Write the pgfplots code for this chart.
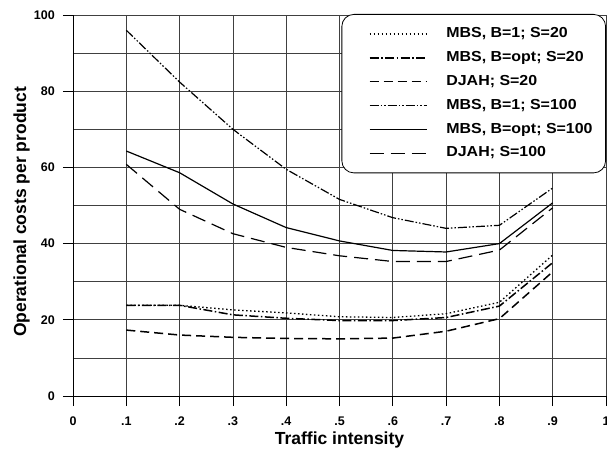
\documentclass[border=0pt]{standalone}
\usepackage{fontspec}
\setmainfont{Liberation Sans}
\newfontfamily\legfont{Liberation Sans}[FakeStretch=1.1]
\usepackage{pgfplots}
\pgfplotsset{compat=1.18}

\begin{document}
\begin{tikzpicture}
\begin{axis}[
    at={(0,0)}, anchor=south west,
    scale only axis,
    width=533bp, height=381bp,
    xmin=0, xmax=1, ymin=0, ymax=100,
    axis lines*=left,
    axis line style={black, line width=0.8bp},
    xtick={0,0.1,...,1.0},
    xticklabels={0,.1,.2,.3,.4,.5,.6,.7,.8,.9,1},
    ytick={0,20,...,100},
    yticklabels={0,20,40,60,80,100},
    minor ytick={10,30,...,90},
    grid=both,
    major grid style={black!75, line width=0.8bp},
    minor grid style={black!75, line width=0.8bp},
    tick align=outside,
    major tick length=10bp,
    minor tick length=0bp,
    tick style={black, line width=0.8bp},
    ticklabel style={font=\bfseries\fontsize{12.5bp}{14bp}\selectfont},
    yticklabel style={inner sep=0pt, xshift=-8bp},
    xticklabel style={inner sep=0pt, anchor=base, yshift=-19bp},
    xlabel={Traffic intensity},
    ylabel={Operational costs per product},
    label style={font=\bfseries\fontsize{17.5bp}{20bp}\selectfont},
    xlabel style={at={(rel axis cs:0.5,0)}, anchor=base, yshift=-48bp},
    ylabel style={at={(ticklabel cs:0.483)}, inner sep=0pt, yshift=4bp},
    legend style={
        at={(rel axis cs:1,1)}, anchor=north east, yshift=1bp,
        draw=black, line width=0.8bp, rounded corners=12bp, fill=white,
        inner xsep=13bp, inner ysep=13bp,
        column sep=19bp, row sep=10.3bp,
        font=\legfont\bfseries\fontsize{14.5bp}{16bp}\selectfont,
        nodes={inner sep=0pt, text height=10.5bp, text depth=3bp},
    },
    legend cell align=left,
    legend image code/.code={
        \path (0bp,0bp);
        \draw[#1, rounded corners=0pt] (14bp,0bp) -- (71bp,0bp);
    },
]
\addplot[black, line width=1.3bp, dash pattern=on 1.5bp off 2.5bp] coordinates {
  (0.1,23.8) (0.2,23.8) (0.3,22.6) (0.4,21.8) (0.5,20.8) (0.6,20.6) (0.7,21.6) (0.8,24.6) (0.9,37.0)
};
\addlegendentry{MBS, B=1; S=20}
\addplot[black, line width=1.5bp, dash pattern=on 9bp off 2.5bp on 1.5bp off 2.5bp] coordinates {
  (0.1,23.8) (0.2,23.8) (0.3,21.3) (0.4,20.4) (0.5,19.8) (0.6,19.8) (0.7,20.6) (0.8,23.6) (0.9,35.0)
};
\addlegendentry{MBS, B=opt; S=20}
\addplot[black, line width=1.5bp, dash pattern=on 9bp off 5bp] coordinates {
  (0.1,17.3) (0.2,16.0) (0.3,15.4) (0.4,15.1) (0.5,15.0) (0.6,15.2) (0.7,17.0) (0.8,20.3) (0.9,32.6)
};
\addlegendentry{DJAH; S=20}
\addplot[black, line width=1.2bp, dash pattern=on 9bp off 2bp on 1.5bp off 2bp on 1.5bp off 2bp] coordinates {
  (0.1,96.0) (0.2,82.4) (0.3,70.0) (0.4,59.5) (0.5,51.6) (0.6,46.8) (0.7,44.0) (0.8,44.8) (0.9,54.6)
};
\addlegendentry{MBS, B=1; S=100}
\addplot[black, line width=1.2bp] coordinates {
  (0.1,64.3) (0.2,58.6) (0.3,50.4) (0.4,44.2) (0.5,40.7) (0.6,38.2) (0.7,37.8) (0.8,40.0) (0.9,50.7)
};
\addlegendentry{MBS, B=opt; S=100}
\addplot[black, line width=1.2bp, dash pattern=on 14bp off 7bp] coordinates {
  (0.1,60.8) (0.2,49.0) (0.3,42.6) (0.4,39.0) (0.5,36.8) (0.6,35.3) (0.7,35.3) (0.8,38.3) (0.9,49.4)
};
\addlegendentry{DJAH; S=100}
\end{axis}
\pgfresetboundingbox
\path[use as bounding box] (-73bp,-60bp) rectangle (534bp,396bp);
\end{tikzpicture}
\end{document}
